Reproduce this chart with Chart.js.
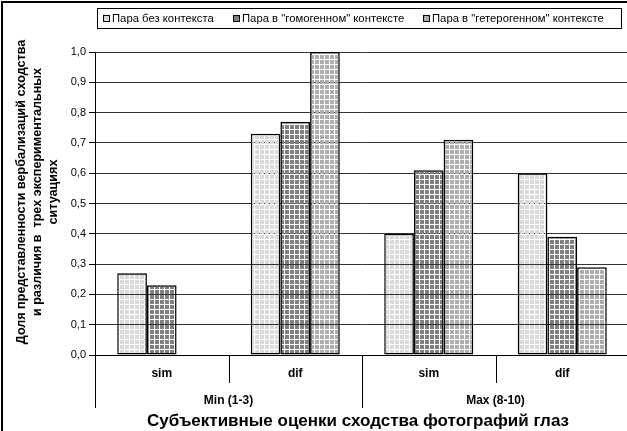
<!DOCTYPE html>
<html>
<head>
<meta charset="utf-8">
<script src="https://cdn.jsdelivr.net/npm/chart.js@4.4.1/dist/chart.umd.min.js"></script>
<style>
html,body{margin:0;padding:0;background:#fff;overflow:hidden;}
#wrap{width:645px;height:431px;position:relative;}
canvas{background:#fff;}
</style>
</head>
<body>
<div id="wrap"><canvas id="c" width="645" height="431"></canvas></div>
<script>
// ---- data ----
const categories = ['sim', 'dif', 'sim', 'dif'];
const groups = ['Min (1-3)', 'Max (8-10)'];
const seriesNames = ['Пара без контекста', 'Пара в "гомогенном" контексте', 'Пара в "гетерогенном" контексте'];
const noContext = [0.27, 0.73, 0.40, 0.60];
const homogeneous = [0.23, 0.77, 0.61, 0.39];
const heterogeneous = [null, 1.00, 0.71, 0.29];
const yTitleLines = ['Доля представленности вербализаций сходства', 'и различия в  трех экспериментальных', 'ситуациях'];
const xTitle = 'Субъективные оценки сходства фотографий глаз';

const baseColors = ['#d9d9d9', '#7f7f7f', '#adadad'];
const FONT = '"Liberation Sans", Arial, sans-serif';

const canvas = document.getElementById('c');
const ctx0 = canvas.getContext('2d');
function makePattern(color) {
  const c = document.createElement('canvas');
  c.width = 5; c.height = 5;
  const g = c.getContext('2d');
  g.fillStyle = color;
  g.fillRect(0, 0, 4, 4);
  return ctx0.createPattern(c, 'repeat');
}

const decor = {
  id: 'decor',
  afterDraw(chart) {
    const ctx = chart.ctx;
    const ca = chart.chartArea;
    const xs = chart.scales.x;
    const n = categories.length;
    const step = (ca.right - ca.left) / n;
    ctx.save();
    // outer frame
    ctx.strokeStyle = '#000';
    ctx.lineWidth = 2;
    ctx.strokeRect(2, 2, 700, 500);
    // legend box
    ctx.lineWidth = 1;
    ctx.strokeRect(97.5, 8.5, 524, 20);
    ctx.font = '11.3px ' + FONT;
    ctx.textBaseline = 'middle';
    ctx.textAlign = 'left';
    const legendX = [103, 233, 423];
    seriesNames.forEach((name, i) => {
      ctx.fillStyle = baseColors[i];
      ctx.fillRect(legendX[i], 15, 7, 7);
      ctx.strokeStyle = '#000';
      ctx.lineWidth = 1;
      ctx.strokeRect(legendX[i] + 0.5, 15.5, 6, 6);
      ctx.fillStyle = '#000';
      ctx.fillText(name, legendX[i] + 9, 19);
    });
    // x axis line
    ctx.strokeStyle = '#000';
    ctx.lineWidth = 1;
    ctx.beginPath();
    ctx.moveTo(ca.left, Math.round(ca.bottom) + 0.5);
    ctx.lineTo(ca.right, Math.round(ca.bottom) + 0.5);
    ctx.stroke();
    // dividers
    for (let i = 0; i <= n; i++) {
      const xp = Math.round(ca.left + i * step) + 0.5;
      const long = (i % 2 === 0);
      ctx.beginPath();
      ctx.moveTo(xp, ca.bottom);
      ctx.lineTo(xp, ca.bottom + (long ? 53 : 28));
      ctx.stroke();
    }
    // category labels
    ctx.fillStyle = '#000';
    ctx.textAlign = 'center';
    ctx.font = 'bold 12px ' + FONT;
    categories.forEach((c, i) => {
      ctx.fillText(c, xs.getPixelForValue(i), 374);
    });
    groups.forEach((g, j) => {
      const xm = (xs.getPixelForValue(2 * j) + xs.getPixelForValue(2 * j + 1)) / 2;
      ctx.fillText(g, xm, 401);
    });
    // x title
    ctx.font = 'bold 17px ' + FONT;
    ctx.fillText(xTitle, 358, 421);
    // y title
    ctx.font = 'bold 12.6px ' + FONT;
    ctx.translate(38, 192);
    ctx.rotate(-Math.PI / 2);
    yTitleLines.forEach((t, i) => {
      ctx.fillText(t, 0, (i - 1) * 16);
    });
    ctx.restore();
  }
};

new Chart(canvas, {
  type: 'bar',
  data: {
    labels: categories,
    datasets: [
      { label: seriesNames[0], data: noContext, backgroundColor: makePattern(baseColors[0]) },
      { label: seriesNames[1], data: homogeneous, backgroundColor: makePattern(baseColors[1]) },
      { label: seriesNames[2], data: heterogeneous, backgroundColor: makePattern(baseColors[2]) }
    ].map(d => Object.assign(d, { borderColor: '#000', borderWidth: 1.5, borderSkipped: false, categoryPercentage: 0.667, barPercentage: 1 }))
  },
  options: {
    responsive: false,
    animation: false,
    devicePixelRatio: 1,
    layout: { padding: { left: 0, top: 52, right: 16, bottom: 76 } },
    plugins: { legend: { display: false }, tooltip: { enabled: false } },
    scales: {
      x: { display: false },
      y: {
        min: 0, max: 1,
        afterFit(s) { s.width = 95; },
        ticks: {
          stepSize: 0.1,
          color: '#000',
          font: { family: FONT, size: 11 },
          padding: 3,
          callback: v => v.toFixed(1).replace('.', ',')
        },
        grid: { color: '#333', lineWidth: 1, tickLength: 6, tickColor: '#000' },
        border: { display: true, color: '#000', width: 1 }
      }
    }
  },
  plugins: [decor]
});
</script>
</body>
</html>
